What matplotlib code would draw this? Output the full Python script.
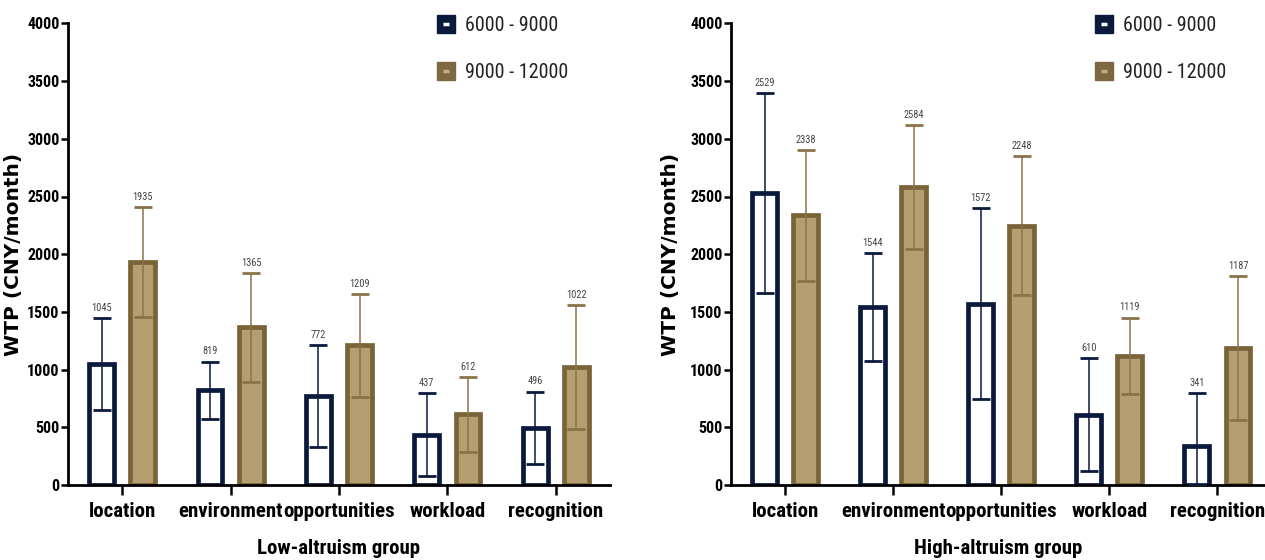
import matplotlib
matplotlib.use("Agg")
import matplotlib.pyplot as plt
from matplotlib.lines import Line2D
from matplotlib.legend_handler import HandlerTuple
import numpy as np
from matplotlib import font_manager

categories = ['location', 'environment', 'opportunities', 'workload', 'recognition']
series_names = ['6000 - 9000', '9000 - 12000']

low_a = [1045, 819, 772, 437, 496]
low_a_err = [398, 250, 440, 360, 313]
low_b = [1935, 1365, 1209, 612, 1022]
low_b_err = [475, 470, 445, 325, 539]

high_a = [2529, 1544, 1572, 610, 341]
high_a_err = [866, 467, 830, 490, 456]
high_b = [2338, 2584, 2248, 1119, 1187]
high_b_err = [566, 535, 604, 332, 620]

group_titles = ['Low-altruism group', 'High-altruism group']
y_ticks = [0, 500, 1000, 1500, 2000, 2500, 3000, 3500, 4000]


def _w(v):
    if isinstance(v, (int, float)):
        return v
    return {'bold': 700, 'heavy': 800, 'black': 900, 'semibold': 600,
            'demibold': 600}.get(str(v).lower(), 400)


def pick(cands):
    fl = font_manager.fontManager.ttflist
    for c in cands:
        ents = [f for f in fl if f.name == c]
        if any(_w(f.weight) >= 700 for f in ents) and any(_w(f.weight) <= 500 for f in ents):
            return c
    return 'Liberation Sans'


narrow = pick(['Arial Narrow', 'Nimbus Sans Narrow', 'Liberation Sans Narrow', 'Roboto Condensed',
               'PT Sans Narrow', 'Open Sans Condensed', 'Archivo Narrow', 'Barlow Semi Condensed'])

NAVY = '#0b1a3c'
TAN_FILL = '#b59e6f'
TAN_EDGE = '#7a6339'
TAN_ERR = '#8a7349'

fig = plt.figure(figsize=(12.65, 5.6), dpi=100)
axes_rects = [[68/1265, 75/560, 542/1265, 461.6/560],
              [731/1265, 75/560, 534/1265, 461.6/560]]
xlims = [(-0.5, 4.5), (-0.5, 4.44)]
ylabel_x = [-0.083, -0.096]
data = [(low_a, low_a_err, low_b, low_b_err), (high_a, high_a_err, high_b, high_b_err)]

w = 0.23
off = 0.19
for i in range(2):
    ax = fig.add_axes(axes_rects[i])
    a, ae, b, be = data[i]
    x = np.arange(len(categories))
    a_low = [min(e, v) for v, e in zip(a, ae)]
    ax.bar(x - off, a, w, facecolor='white', edgecolor=NAVY, linewidth=3.4, zorder=2)
    ax.bar(x + off, b, w, facecolor=TAN_FILL, edgecolor=TAN_EDGE, linewidth=3.4, zorder=2)
    ax.errorbar(x - off, a, yerr=[a_low, ae], fmt='none', ecolor=NAVY, elinewidth=1.1,
                capsize=6.5, capthick=2, zorder=3)
    ax.errorbar(x + off, b, yerr=[be, be], fmt='none', ecolor=TAN_ERR, elinewidth=1.1,
                capsize=6.5, capthick=2, zorder=3)
    for xi, v, e in zip(x - off, a, ae):
        ax.text(xi, v + e + 45, str(v), ha='center', va='bottom', fontsize=7.5,
                color='#444444', family=narrow)
    for xi, v, e in zip(x + off, b, be):
        ax.text(xi, v + e + 45, str(v), ha='center', va='bottom', fontsize=7.5,
                color='#444444', family=narrow)
    ax.set_xlim(*xlims[i])
    ax.set_ylim(0, 4000)
    ax.set_yticks(y_ticks)
    ax.set_yticklabels([str(t) for t in y_ticks], family=narrow, fontweight='bold', fontsize=11.5)
    ax.set_xticks(x)
    ax.set_xticklabels(categories, family=narrow, fontweight='bold', fontsize=15)
    for s in ['top', 'right']:
        ax.spines[s].set_visible(False)
    for s in ['left', 'bottom']:
        ax.spines[s].set_linewidth(2)
    ax.tick_params(axis='y', length=5, width=1.8, pad=1)
    ax.tick_params(axis='x', length=7, width=1.8, pad=5)
    ax.set_xlabel(group_titles[i], family=narrow, fontweight='bold', fontsize=15, labelpad=13)
    ax.set_ylabel('WTP (CNY/month)', family='DejaVu Sans', fontweight='bold', fontsize=14.5)
    ax.yaxis.set_label_coords(ylabel_x[i], 0.5)

    sq1 = Line2D([], [], marker='s', markersize=13, markerfacecolor=NAVY, markeredgecolor=NAVY, linestyle='none')
    d1 = Line2D([], [], marker='_', markersize=5, markeredgewidth=2.5, color='white', linestyle='none')
    sq2 = Line2D([], [], marker='s', markersize=13, markerfacecolor='#7d6842', markeredgecolor='#7d6842', linestyle='none')
    d2 = Line2D([], [], marker='_', markersize=5, markeredgewidth=2.5, color='#c2ad82', linestyle='none')
    leg = ax.legend([(sq1, d1), (sq2, d2)], series_names, handler_map={tuple: HandlerTuple(ndivide=1)},
                    loc='upper left', bbox_to_anchor=(0.66, 1.038), frameon=False,
                    prop={'family': narrow, 'size': 14.5}, labelspacing=1.4,
                    handlelength=1.0, handletextpad=0.45, borderpad=0)
    for t in leg.get_texts():
        t.set_color('#222222')

fig.savefig('out.png', dpi=100)
